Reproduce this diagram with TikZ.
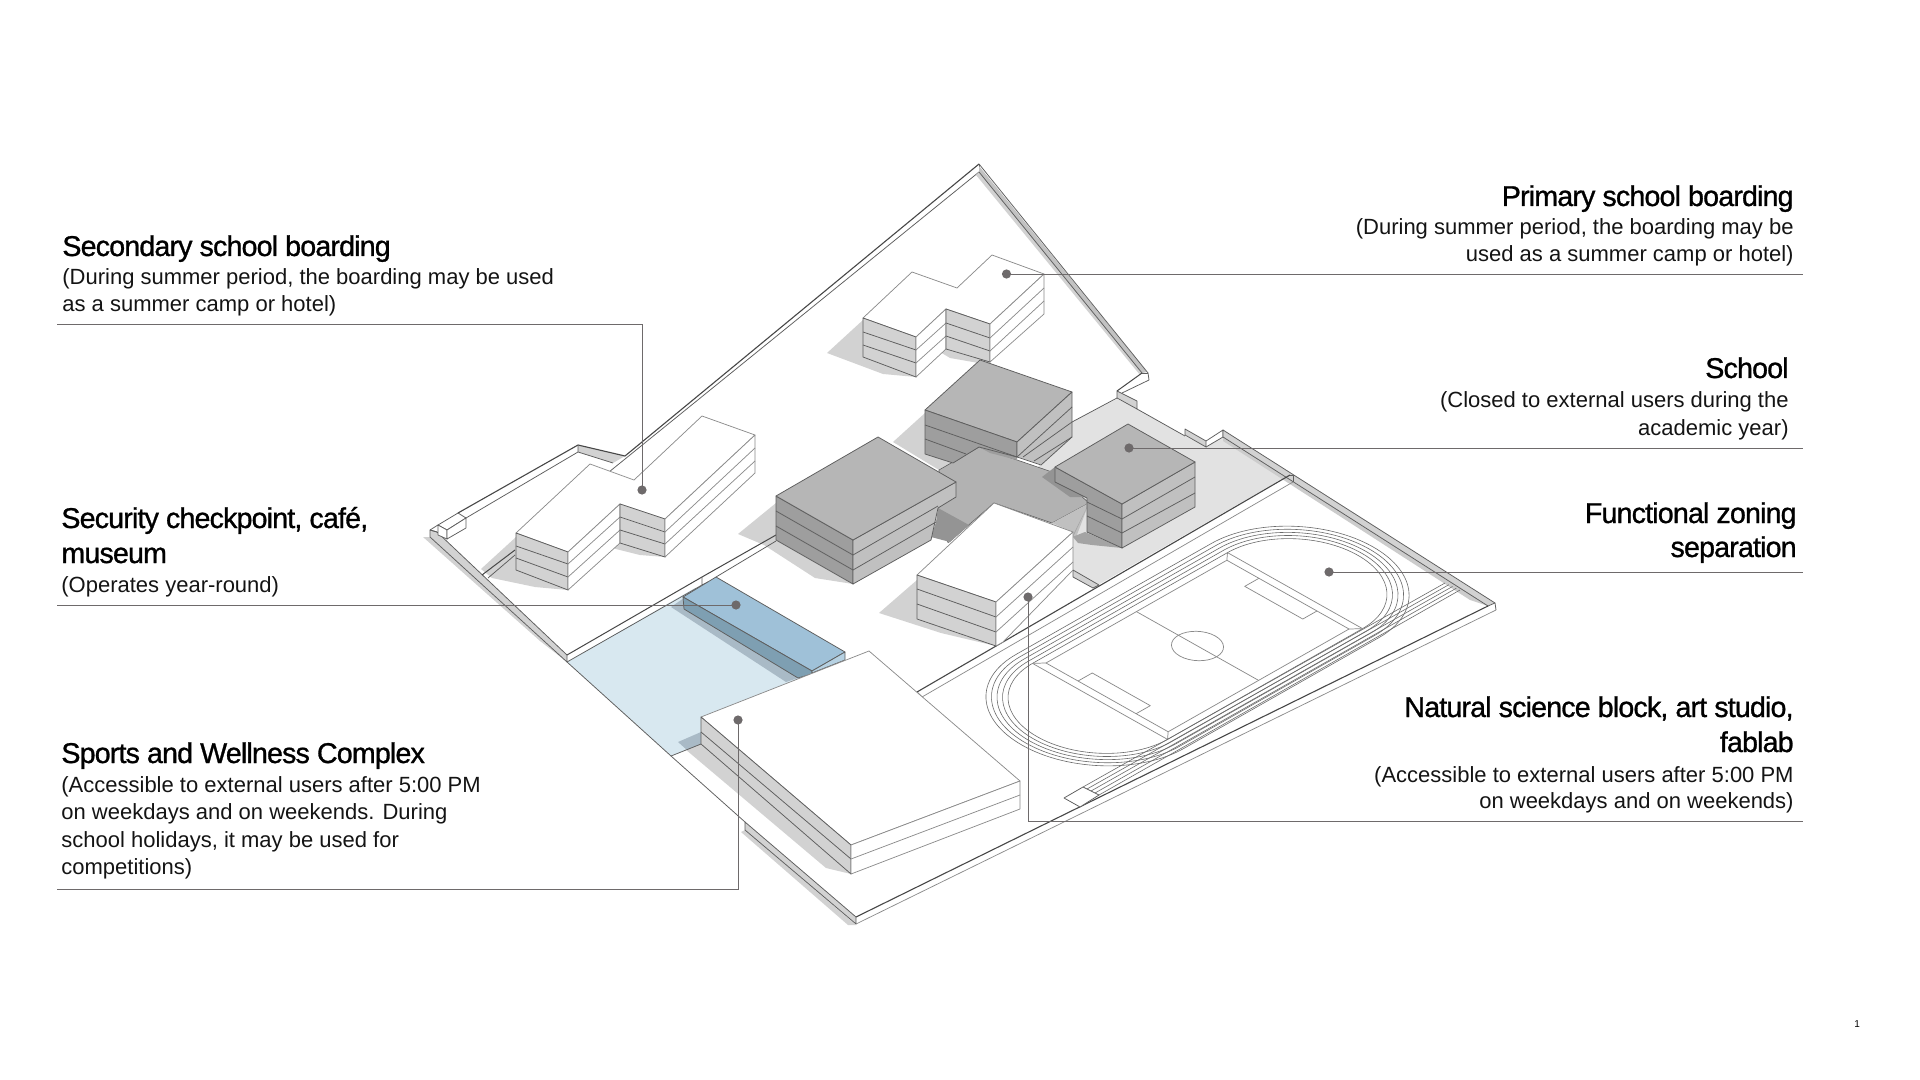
\documentclass[tikz,border=0pt]{standalone}
\usepackage{fontspec}
\usetikzlibrary{calc}
\setmainfont{Liberation Sans}
\newfontfamily\ttlfont[LetterSpace=-2.9,FakeBold=1.0]{Liberation Sans}
\newfontfamily\bodyfont{Liberation Sans}
\definecolor{edgec}{HTML}{5E5E5E}
\definecolor{softc}{HTML}{8A8A8A}
\definecolor{leadc}{HTML}{6E6A6B}
\definecolor{shadec}{HTML}{D2D2D2}
\definecolor{roofd}{HTML}{B6B6B6}
\definecolor{faced}{HTML}{9E9E9E}
\definecolor{facer}{HTML}{C0C0C0}
\definecolor{grnd}{HTML}{E2E2E2}
\definecolor{court}{HTML}{B2B2B2}
\definecolor{courtd}{HTML}{949494}
\definecolor{blueL}{HTML}{D8E8F0}
\definecolor{blueT}{HTML}{9FC1D8}
\definecolor{blueF}{HTML}{7E9FB2}
\definecolor{blueS}{HTML}{A9BAC6}
\tikzset{
  edge/.style={draw=edgec,line width=0.38pt,line join=round},
  soft/.style={draw=softc,line width=0.36pt,line join=round},
  dark/.style={draw=black!72,line width=0.55pt,line join=round},
  shade/.style={fill=shadec,draw=none},
  strip/.style={fill=shadec,draw=edgec,line width=0.38pt,line join=round},
  track/.style={draw=black!58,line width=0.3pt},
  leader/.style={draw=leadc,line width=0.45pt},
  dotn/.style={circle,fill=leadc,draw=none,minimum size=4.6pt,inner sep=0pt},
  ttl/.style={inner sep=0pt,font={\ttlfont\fontsize{14.3}{14.3}\selectfont},text=black},
  bdy/.style={inner sep=0pt,font={\bodyfont\fontsize{11}{11}\selectfont},text=black!92},
  lft/.style={anchor=base west},
  rgt/.style={anchor=base east}
}
\begin{document}
\begin{tikzpicture}[x=0.5pt,y=-0.5pt]
\useasboundingbox (0,0) rectangle (1920,1080);
\fill[white] (0,0) rectangle (1920,1080);

% ground zones
\fill[grnd] (1072,422)--(1117,399)--(1137,409)--(1185,436)--(1206,447)--(1223,437)--(1287,476)--(1098,585)--(1073,570)--(1073,532)--(994,503)--(1040,465)--cycle;
\fill[blueL] (567,662)--(695,588)--(845,660)--(845,668)--(701,717)--(701,744)--(671,756)--cycle;

% shadows
\fill[shadec] (827,353)--(863,320)--(863,357)--(916,377)--(883,374)--cycle;
\fill[shadec] (946,345)--(940,352)--(950,358)--(990,365)--(990,355)--cycle;
\fill[shadec] (481,569)--(516,537)--(516,570)--(568,590)--(535,587)--(492,578)--cycle;
\fill[shadec] (620,540)--(612,548)--(640,555)--(665,557)--cycle;
\fill[shadec] (893,442)--(925,413)--(925,454)--(953,463)--(939,470)--cycle;
\fill[shadec] (738,534)--(776,503)--(776,540)--(853,584)--(815,578)--(764,545)--cycle;
\fill[shadec] (879,613)--(917,580)--(917,619)--(996,646)--(941,633)--cycle;
\fill[shadec] (685,749)--(701,732)--(851,845)--(851,874)--(826,868)--cycle;
\fill[blueS] (678,742)--(701,732)--(701,744)--(687,750)--cycle;
\fill[blueS] (671,607)--(684,598)--(684,609)--(798,678)--(786,682)--cycle;

% central court
\path[fill=court,draw=edgec,line width=0.3pt] (939,470)--(979,447)--(1055,473)--(1089,503)--(1052,523)--(994,503)--(948,543)--(938,508)--cycle;
\fill[courtd] (938,508)--(969,525)--(950,542)--(931,537)--(936,522)--cycle;
\fill[white] (931,540)--(950,543)--(944,548)--(925,544)--cycle;
\fill[facer] (1052,523)--(1089,503)--(1075,540)--(1073,532)--cycle;
\fill[courtd] (1042,477)--(1055,467)--(1055,482)--(1087,497)--(1070,497)--cycle;
\fill[courtd!70!court] (979,447)--(1017,457)--(1017,460)--(990,453)--cycle;
\fill[courtd!85!white] (1089,503)--(1072,537)--(1085,532)--(1122,548)--(1092,545)--(1078,543)--(1073,537)--cycle;

% site walls: north-west
\fill[shadec] (578,445)--(625,456)--(613,463)--(578,452)--cycle;
\draw[dark] (625,456)--(578,445)--(458,513);
\draw[edge] (578,445)--(578,452)--(613,463);
\draw[edge] (578,452)--(466,518);
\draw[dark] (979,164)--(625,456);
\draw[edge] (979,172)--(609,472);
\draw[edge] (979,164)--(979,172);
% apex to notch
\fill[shadec] (979,172)--(1142,373)--(1140,375)--(976,175)--cycle;
\fill[black!24] (979,166)--(1147,372)--(1142,373)--(979,172)--cycle;
\draw[edge] (979,172)--(1142,373);
\draw[edge] (979,164)--(1148,373);
\draw[dark,line width=0.5pt] (1142,373)--(1117,391);
\draw[edge] (1148,373)--(1149,380)--(1122,393);
\draw[edge] (1142,373)--(1148,373);
\path[strip] (1117,391)--(1137,401)--(1137,409)--(1117,398)--cycle;
\draw[edge] (1117,398)--(1072,422);
\draw[edge] (1137,409)--(1185,436);
% gate notch
\path[strip] (1185,429)--(1206,441)--(1206,447)--(1185,435)--cycle;
\draw[edge] (1206,441)--(1223,430)--(1223,437)--(1206,447);
% north-east strip
\fill[black!20] (1223,437)--(1488,606)--(1470,600)--(1223,441)--cycle;
\path[strip] (1223,430)--(1495,603)--(1488,606)--(1223,437)--cycle;
\draw[edge] (1495,603)--(1496,610);
% south-east edge
\draw[dark] (856,917)--(1488,606);
\draw[soft] (856,924)--(1496,610);
% south-west lower wall
\fill[shadec] (745,830)--(856,925)--(848,925)--(741,832)--cycle;
\path[strip] (745,822)--(856,917)--(856,924)--(745,830)--cycle;
\draw[edge] (567,662)--(671,756)--(745,822);
\draw[edge] (671,756)--(701,744);
% south-west upper wall
\fill[shadec] (430,537)--(540,638)--(567,662)--(540,641)--(423,537)--cycle;
\path[strip] (437,532)--(567,655)--(567,662)--(430,537)--(430,530)--cycle;
\draw[edge] (430,530)--(438,525);
\draw[edge] (430,530)--(437,532);
% gatehouse
\path[fill=white,edge] (438,525)--(458,513)--(466,518)--(447,530)--cycle;
\path[fill=white,edge] (438,525)--(447,530)--(447,539)--(438,535)--cycle;
\path[fill=white,edge] (447,530)--(466,518)--(466,528)--(447,539)--cycle;
% internal roads
\draw[dark,line width=0.5pt] (567,655)--(702,577)--(776,535);
\draw[edge] (567,662)--(702,585);
\draw[edge] (716,577)--(776,541);
\draw[edge] (702,577)--(702,585)--(708,582);
\draw[dark,line width=0.5pt] (482,575)--(515,550);
\draw[edge] (488,578)--(515,555);
\draw[dark] (917,692)--(1290,475);
\draw[soft] (922,697)--(1293,482);
\draw[edge] (917,692)--(922,697);
\draw[edge] (1290,475)--(1293,475)--(1293,482);
\draw[edge] (1072,422)--(1040,440);
\path[strip] (1073,570)--(1099,585)--(1093,588)--(1073,577)--cycle;

% blue block
\path[fill=blueT,edge] (683,597)--(716,577)--(845,652)--(812,671)--cycle;
\path[fill=blueF,edge] (683,597)--(812,671)--(812,674)--(798,678)--(684,609)--cycle;
\path[fill=blueT!60!blueL,edge] (812,671)--(845,652)--(845,660)--(812,673)--cycle;

% track
\begin{scope}[shift={(1197.5,646)},x={(31.25pt,17.75pt)},y={(33.75pt,-19pt)}]
  \foreach \r in {1,1.06,1.12,1.18,1.24}{
    \draw[track] (-1.56,-\r)--(1.56,-\r)
      .. controls (1.56+0.5523*\r,-\r) and (1.56+\r,-0.5523*\r) .. (1.56+\r,0)
      .. controls (1.56+\r,0.5523*\r) and (1.56+0.5523*\r,\r) .. (1.56,\r)
      -- (-1.56,\r)
      .. controls (-1.56-0.5523*\r,\r) and (-1.56-\r,0.5523*\r) .. (-1.56-\r,0)
      .. controls (-1.56-\r,-0.5523*\r) and (-1.56-0.5523*\r,-\r) .. (-1.56,-\r) -- cycle;
  }
  \draw[soft] (-1.56,-1)--(-1.56,1) (1.56,-1)--(1.56,1);
  \draw[soft] (-1.447,-0.905)--(1.447,-0.905)--(1.447,0.905)--(-1.447,0.905)--cycle;
  \draw[soft] (-1.56,-1)--(-1.447,-0.905) (1.56,-1)--(1.447,-0.905) (1.56,1)--(1.447,0.905) (-1.56,1)--(-1.447,0.905);
  \draw[soft] (0,-0.905)--(0,0.905);
  \draw[soft] (1.447,-0.43)--(1.22,-0.43)--(1.22,0.43)--(1.447,0.43);
  \draw[soft] (-1.447,-0.43)--(-1.22,-0.43)--(-1.22,0.43)--(-1.447,0.43);
  \draw[soft] (0.283,0)
      .. controls (0.283,0.1563) and (0.1563,0.283) .. (0,0.283)
      .. controls (-0.1563,0.283) and (-0.283,0.1563) .. (-0.283,0)
      .. controls (-0.283,-0.1563) and (-0.1563,-0.283) .. (0,-0.283)
      .. controls (0.1563,-0.283) and (0.283,-0.1563) .. (0.283,0) -- cycle;
\end{scope}
% sprint lanes
\coordinate (sa) at (1083,787);
\coordinate (sb) at (1099,795);
\coordinate (sc) at (1445,583);
\coordinate (sd) at (1460,590);
\foreach \t in {0,0.25,0.5,0.75,1}{
  \draw[track] ($(sa)!\t!(sb)$)--($(sc)!\t!(sd)$);
}
\path[fill=white,edge] (1064,798)--(1083,787)--(1099,795)--(1080,807)--cycle;

% primary boarding
\path[fill=white,soft] (863,318)--(912,272)--(957,288)--(992,255)--(1044,274)--(990,324)--(946,309)--(916,337)--cycle;
\path[fill=shadec,edge] (863,318)--(916,337)--(916,377)--(863,357)--cycle;
\draw[edge] (863,332)--(916,350) (863,345)--(916,363);
\path[fill=white,soft] (916,337)--(946,309)--(946,349)--(916,377)--cycle;
\draw[soft] (916,350)--(946,323) (916,363)--(946,336);
\path[fill=shadec,edge] (946,309)--(990,324)--(990,362)--(946,349)--cycle;
\draw[edge] (946,323)--(990,338) (946,336)--(990,351);
\path[fill=white,soft] (990,324)--(1044,274)--(1044,314)--(990,362)--cycle;
\draw[soft] (990,338)--(1044,288) (990,351)--(1044,301);

% upper dark block
\path[fill=roofd,edge] (925,410)--(980,360)--(1072,392)--(1017,442)--cycle;
\path[fill=faced,edge] (925,410)--(1017,442)--(1017,457)--(979,447)--(953,463)--(925,454)--cycle;
\draw[edge] (925,425)--(1017,457) (925,439)--(966,454);
\path[fill=facer,edge] (1017,442)--(1072,392)--(1072,437)--(1041,465)--(1017,457)--cycle;
\draw[edge] (1017,457)--(1072,407) (1023,457)--(1072,422) (1034,461)--(1072,437);

% school block
\path[fill=faced,edge] (1055,467)--(1122,504)--(1122,548)--(1087,532)--(1087,498)--(1055,482)--cycle;
\draw[edge] (1087,502)--(1122,519) (1087,516)--(1122,533);
\path[fill=facer,edge] (1122,504)--(1195,462)--(1195,507)--(1122,548)--cycle;
\draw[edge] (1122,519)--(1195,477) (1122,533)--(1195,493);
\path[fill=roofd,edge] (1055,467)--(1128,424)--(1195,462)--(1122,504)--cycle;

% main dark block
\path[fill=faced,edge] (776,496)--(853,540)--(853,584)--(776,540)--cycle;
\draw[edge] (776,511)--(853,555) (776,526)--(853,570);
\path[fill=facer,edge] (853,540)--(956,482)--(956,497)--(938,508)--(931,540)--(853,584)--cycle;
\draw[edge] (853,555)--(938,506) (853,570)--(936,522);
\path[fill=roofd,edge] (776,496)--(878,437)--(956,482)--(853,540)--cycle;

% natural science block
\path[fill=white,soft] (917,575)--(994,503)--(1073,532)--(996,602)--cycle;
\path[fill=shadec,edge] (917,575)--(996,602)--(996,646)--(917,619)--cycle;
\draw[edge] (917,589)--(996,617) (917,604)--(996,632);
\path[fill=white,soft] (996,602)--(1073,532)--(1073,570)--(1003,642)--(996,646)--cycle;
\draw[soft] (996,617)--(1073,547) (996,632)--(1073,562);

% secondary boarding
\path[fill=white,soft] (516,533)--(590,464)--(634,480)--(702,416)--(755,435)--(665,519)--(620,504)--(568,552)--cycle;
\path[fill=shadec,edge] (516,533)--(568,552)--(568,590)--(516,570)--cycle;
\draw[edge] (516,546)--(568,564) (516,558)--(568,577);
\path[fill=white,soft] (568,552)--(620,504)--(620,543)--(568,590)--cycle;
\draw[soft] (568,564)--(620,517) (568,577)--(620,530);
\path[fill=shadec,edge] (620,504)--(665,519)--(665,557)--(620,543)--cycle;
\draw[edge] (620,517)--(665,532) (620,530)--(665,544);
\path[fill=white,soft] (665,519)--(755,435)--(755,473)--(665,557)--cycle;
\draw[soft] (665,532)--(755,448) (665,544)--(755,461);

% sports complex
\path[fill=white,soft] (701,717)--(869,651)--(1020,781)--(851,845)--cycle;
\path[fill=shadec,edge] (701,717)--(851,845)--(851,874)--(701,744)--cycle;
\draw[edge] (701,732)--(851,859);
\path[fill=white,soft] (851,845)--(1020,781)--(1020,809)--(851,874)--cycle;
\draw[soft] (851,859)--(1020,795);

% leaders
\node[dotn] (d1) at (1006.5,274) {};
\coordinate (e1) at (1803,274);
\draw[leader] (d1.center)--(e1);
\node[dotn] (d2) at (1129,448) {};
\coordinate (e2) at (1803,448);
\draw[leader] (d2.center)--(e2);
\node[dotn] (d3) at (1329,572) {};
\coordinate (e3) at (1803,572);
\draw[leader] (d3.center)--(e3);
\node[dotn] (d4) at (1028,597) {};
\coordinate (e4) at (1803,821);
\draw[leader] (d4.center)|-(e4);
\node[dotn] (d5) at (642,490) {};
\coordinate (e5) at (57,324);
\draw[leader] (d5.center)|-(e5);
\node[dotn] (d6) at (736,605) {};
\coordinate (e6) at (57,605);
\draw[leader] (d6.center)--(e6);
\node[dotn] (d7) at (738,720) {};
\coordinate (e7) at (57,889);
\draw[leader] (d7.center)|-(e7);

% labels left
\node[ttl,lft] (s1) at (62,256) {Secondary school boarding};
\node[bdy,lft] (s2) at (62,285) {(During summer period, the boarding may be used};
\node[bdy,lft] (s3) at (62,312) {as a summer camp or hotel)};
\node[ttl,lft] (c1) at (61,528) {Security checkpoint, café,};
\node[ttl,lft] (c2) at (61,563) {museum};
\node[bdy,lft] (c3) at (61,592) {(Operates year-round)};
\node[ttl,lft] (w1) at (61,763) {Sports and Wellness Complex};
\node[bdy,lft] (w2) at (61,792) {(Accessible to external users after 5:00 PM};
\node[bdy,lft] (w3) at (61,819) {on weekdays and on weekends. During};
\node[bdy,lft] (w4) at (61,847) {school holidays, it may be used for};
\node[bdy,lft] (w5) at (61,874) {competitions)};
% labels right
\node[ttl,rgt] (p1) at (1794,206) {Primary school boarding};
\node[bdy,rgt] (p2) at (1794,235) {(During summer period, the boarding may be};
\node[bdy,rgt] (p3) at (1794,262) {used as a summer camp or hotel)};
\node[ttl,rgt] (h1) at (1789,378) {School};
\node[bdy,rgt] (h2) at (1789,407) {(Closed to external users during the};
\node[bdy,rgt] (h3) at (1789,435) {academic year)};
\node[ttl,rgt] (f1) at (1797,523) {Functional zoning};
\node[ttl,rgt] (f2) at (1797,557) {separation};
\node[ttl,rgt] (n1) at (1794,717) {Natural science block, art studio,};
\node[ttl,rgt] (n2) at (1794,752) {fablab};
\node[bdy,rgt] (n3) at (1794,782) {(Accessible to external users after 5:00 PM};
\node[bdy,rgt] (n4) at (1794,808) {on weekdays and on weekends)};
\node[inner sep=0pt,font={\bodyfont\fontsize{5}{5}\selectfont}] (pg) at (1857,1024) {1};
\end{tikzpicture}
\end{document}
